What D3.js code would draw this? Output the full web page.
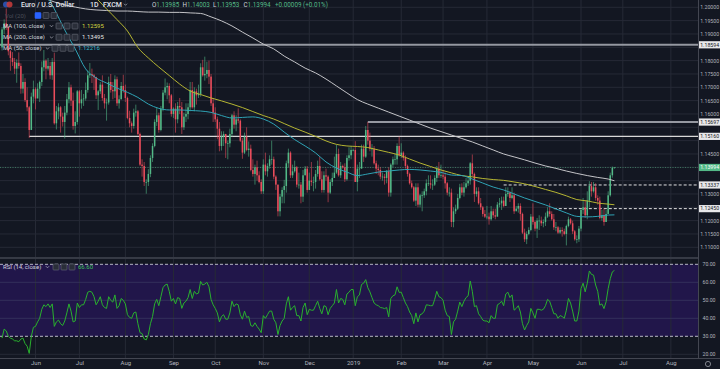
<!DOCTYPE html>
<html><head><meta charset="utf-8">
<script src="https://cdn.jsdelivr.net/npm/d3@7/dist/d3.min.js"></script>
<style>
html,body{margin:0;padding:0;background:#131722;overflow:hidden;}
svg{display:block;}
text{font-family:Roboto,"Noto Sans",sans-serif;}
</style></head><body>
<svg id="c" width="720" height="369"></svg>
<script>
// ---------------- DATA ----------------
const startDate = "2018-05-10";
const firstOpen = 1.1850;
const closes = [
1.1917,1.1940,
1.1925,1.1835,1.1810,1.1795,1.1770,
1.1792,1.1780,1.1695,1.1720,1.1652,
1.1625,1.1540,1.1665,1.1693,1.1658,
1.1695,1.1720,1.1775,1.1800,1.1770,
1.1780,1.1745,1.1795,1.1565,1.1610,
1.1625,1.1590,1.1570,1.1605,1.1655,
1.1700,1.1650,1.1555,1.1570,1.1685,
1.1640,1.1655,1.1658,1.1690,1.1745,
1.1750,1.1745,1.1738,1.1670,1.1685,
1.1710,1.1660,1.1640,1.1643,1.1720,
1.1690,1.1685,1.1730,1.1640,1.1655,
1.1705,1.1690,1.1660,1.1585,1.1565,
1.1555,1.1605,1.1610,1.1525,1.1410,
1.1405,1.1345,1.1345,1.1375,1.1435,
1.1480,1.1570,1.1595,1.1540,1.1620,
1.1680,1.1700,1.1705,1.1670,1.1600,
1.1620,1.1580,1.1630,1.1625,1.1550,
1.1590,1.1600,1.1625,1.1690,1.1625,
1.1685,1.1670,1.1675,1.1775,1.1745,
1.1750,1.1765,1.1740,1.1640,1.1605,
1.1580,1.1545,1.1480,1.1515,1.1525,
1.1490,1.1490,1.1525,1.1595,1.1560,
1.1580,1.1575,1.1500,1.1455,1.1515,
1.1465,1.1470,1.1390,1.1375,1.1400,
1.1370,1.1345,1.1310,1.1410,1.1385,
1.1405,1.1430,1.1430,1.1365,1.1335,
1.1235,1.1290,1.1315,1.1330,1.1415,
1.1455,1.1370,1.1385,1.1400,1.1335,
1.1335,1.1290,1.1370,1.1395,1.1315,
1.1350,1.1345,1.1345,1.1375,1.1405,
1.1355,1.1315,1.1370,1.1365,1.1305,
1.1345,1.1360,1.1380,1.1450,1.1370,
1.1405,1.1400,1.1355,1.1435,1.1445,
1.1465,1.1465,1.1345,1.1395,1.1395,
1.1470,1.1440,1.1540,1.1500,1.1470,
1.1470,1.1415,1.1395,1.1390,1.1365,
1.1365,1.1360,1.1385,1.1305,1.1410,
1.1430,1.1430,1.1480,1.1445,1.1455,
1.1435,1.1405,1.1375,1.1340,1.1325,
1.1275,1.1325,1.1260,1.1295,1.1295,
1.1310,1.1340,1.1340,1.1335,1.1335,
1.1360,1.1395,1.1370,1.1370,1.1365,
1.1340,1.1305,1.1305,1.1195,1.1235,
1.1245,1.1285,1.1325,1.1305,1.1325,
1.1340,1.1350,1.1415,1.1375,1.1300,
1.1310,1.1265,1.1250,1.1225,1.1215,
1.1215,1.1205,1.1235,1.1220,1.1215,
1.1260,1.1265,1.1275,1.1255,1.1300,
1.1305,1.1285,1.1295,1.1235,1.1245,
1.1255,1.1225,1.1155,1.1130,1.1150,
1.1165,1.1215,1.1195,1.1170,1.1200,
1.1200,1.1190,1.1195,1.1215,1.1235,
1.1225,1.1205,1.1175,1.1175,1.1155,
1.1165,1.1160,1.1150,1.1180,1.1205,
1.1190,1.1160,1.1130,1.1130,1.1170,
1.1240,1.1250,1.1220,1.1275,1.1330,
1.1310,1.1325,1.1285,1.1275,1.1210,
1.1220,1.1195,1.1225,1.1295,1.1370,
1.13985,1.13994];
const highs = [
1.1926,1.1955,
1.1996,1.1930,1.1840,1.1832,1.1810,
1.1805,1.1831,1.1790,1.1750,1.1734,
1.1700,1.1630,1.1680,1.1725,1.1700,
1.1715,1.1725,1.1797,1.1840,1.1805,
1.1810,1.1795,1.1810,1.1830,1.1630,
1.1640,1.1630,1.1605,1.1630,1.1675,
1.1720,1.1710,1.1680,1.1610,1.1690,
1.1690,1.1690,1.1675,1.1718,1.1763,
1.1791,1.1770,1.1750,1.1740,1.1690,
1.1720,1.1745,1.1675,1.1658,1.1740,
1.1750,1.1720,1.1745,1.1740,1.1670,
1.1720,1.1747,1.1710,1.1665,1.1612,
1.1572,1.1620,1.1635,1.1615,1.1530,
1.1430,1.1420,1.1355,1.1393,1.1445,
1.1490,1.1580,1.1623,1.1605,1.1630,
1.1690,1.1733,1.1718,1.1715,1.1675,
1.1625,1.1640,1.1645,1.1660,1.1645,
1.1605,1.1640,1.1640,1.1720,1.1720,
1.1700,1.1695,1.1710,1.1790,1.1803,
1.1815,1.1796,1.1800,1.1750,1.1660,
1.1625,1.1590,1.1570,1.1535,1.1535,
1.1525,1.1500,1.1545,1.1600,1.1610,
1.1595,1.1621,1.1580,1.1510,1.1530,
1.1550,1.1497,1.1485,1.1430,1.1410,
1.1425,1.1385,1.1355,1.1430,1.1455,
1.1415,1.1445,1.1500,1.1440,1.1370,
1.1335,1.1300,1.1325,1.1353,1.1425,
1.1470,1.1460,1.1410,1.1425,1.1405,
1.1380,1.1345,1.1390,1.1405,1.1405,
1.1380,1.1420,1.1365,1.1390,1.1425,
1.1440,1.1385,1.1385,1.1395,1.1370,
1.1355,1.1380,1.1440,1.1485,1.1470,
1.1420,1.1410,1.1415,1.1445,1.1475,
1.1480,1.1470,1.1498,1.1410,1.1420,
1.1485,1.1485,1.1555,1.1570,1.1530,
1.1487,1.1480,1.1425,1.1410,1.1400,
1.1380,1.1375,1.1390,1.1400,1.1415,
1.1440,1.1450,1.1490,1.1515,1.1490,
1.1460,1.1445,1.1410,1.1380,1.1350,
1.1330,1.1340,1.1340,1.1300,1.1310,
1.1320,1.1355,1.1370,1.1370,1.1355,
1.1370,1.1405,1.1420,1.1410,1.1390,
1.1380,1.1345,1.1325,1.1320,1.1250,
1.1260,1.1300,1.1338,1.1340,1.1345,
1.1360,1.1365,1.1420,1.1448,1.1380,
1.1325,1.1325,1.1285,1.1255,1.1240,
1.1255,1.1230,1.1255,1.1245,1.1245,
1.1270,1.1285,1.1290,1.1290,1.1325,
1.1325,1.1310,1.1325,1.1305,1.1255,
1.1265,1.1265,1.1230,1.1170,1.1160,
1.1175,1.1225,1.1265,1.1200,1.1210,
1.1220,1.1215,1.1205,1.1230,1.1250,
1.1265,1.1235,1.1225,1.1195,1.1180,
1.1175,1.1175,1.1170,1.1185,1.1215,
1.1210,1.1200,1.1165,1.1145,1.1180,
1.1245,1.1285,1.1275,1.1310,1.1348,
1.1345,1.1345,1.1340,1.1295,1.1290,
1.1240,1.1245,1.1240,1.1310,1.1380,
1.1403,1.14003];
const lows = [
1.1838,1.1900,
1.1915,1.1820,1.1762,1.1780,1.1750,
1.1717,1.1770,1.1676,1.1677,1.1645,
1.1610,1.1510,1.1540,1.1640,1.1617,
1.1665,1.1645,1.1705,1.1760,1.1730,
1.1763,1.1730,1.1728,1.1560,1.1542,
1.1580,1.1530,1.1553,1.1508,1.1595,
1.1640,1.1630,1.1541,1.1527,1.1560,
1.1590,1.1620,1.1630,1.1650,1.1680,
1.1735,1.1716,1.1690,1.1656,1.1615,
1.1675,1.1650,1.1620,1.1575,1.1635,
1.1680,1.1655,1.1660,1.1630,1.1620,
1.1655,1.1680,1.1645,1.1580,1.1550,
1.1530,1.1545,1.1590,1.1520,1.1405,
1.1365,1.1330,1.1301,1.1330,1.1363,
1.1420,1.1475,1.1555,1.1530,1.1535,
1.1610,1.1670,1.1655,1.1640,1.1590,
1.1585,1.1530,1.1565,1.1600,1.1525,
1.1540,1.1570,1.1580,1.1610,1.1620,
1.1610,1.1635,1.1660,1.1665,1.1740,
1.1725,1.1734,1.1712,1.1630,1.1570,
1.1570,1.1505,1.1460,1.1463,1.1480,
1.1435,1.1430,1.1475,1.1515,1.1545,
1.1535,1.1565,1.1495,1.1432,1.1450,
1.1460,1.1440,1.1385,1.1365,1.1335,
1.1350,1.1340,1.1300,1.1300,1.1370,
1.1365,1.1395,1.1410,1.1355,1.1315,
1.1216,1.1216,1.1265,1.1265,1.1305,
1.1400,1.1360,1.1360,1.1380,1.1325,
1.1320,1.1265,1.1270,1.1370,1.1305,
1.1330,1.1330,1.1310,1.1320,1.1365,
1.1350,1.1305,1.1305,1.1350,1.1269,
1.1300,1.1330,1.1360,1.1375,1.1365,
1.1360,1.1395,1.1345,1.1350,1.1425,
1.1430,1.1460,1.1345,1.1310,1.1360,
1.1395,1.1420,1.1435,1.1485,1.1460,
1.1440,1.1410,1.1375,1.1370,1.1355,
1.1350,1.1335,1.1340,1.1290,1.1290,
1.1400,1.1410,1.1410,1.1440,1.1435,
1.1425,1.1395,1.1365,1.1335,1.1320,
1.1270,1.1255,1.1250,1.1250,1.1235,
1.1285,1.1295,1.1330,1.1320,1.1315,
1.1330,1.1345,1.1360,1.1360,1.1355,
1.1320,1.1295,1.1290,1.1176,1.1175,
1.1225,1.1240,1.1280,1.1295,1.1290,
1.1320,1.1330,1.1335,1.1365,1.1270,
1.1290,1.1260,1.1240,1.1215,1.1210,
1.1205,1.1185,1.1200,1.1210,1.1205,
1.1215,1.1250,1.1240,1.1250,1.1255,
1.1290,1.1270,1.1280,1.1225,1.1240,
1.1230,1.1200,1.1150,1.1120,1.1112,
1.1145,1.1160,1.1185,1.1160,1.1135,
1.1165,1.1180,1.1175,1.1180,1.1210,
1.1215,1.1200,1.1165,1.1160,1.1150,
1.1150,1.1140,1.1145,1.1107,1.1175,
1.1185,1.1150,1.1125,1.1115,1.1120,
1.1160,1.1225,1.1210,1.1205,1.1250,
1.1290,1.1305,1.1275,1.1260,1.1205,
1.1200,1.1181,1.1195,1.1225,1.1290,
1.1361,1.13953];
const rsiValues = [
29,34,33,30,29,28.5,27.5,27.5,27,28.5,29,26,24.5,20.5,30,35,35.5,
38,40,45,47.5,46.5,48,46,48,35.5,38,39,37,36,38.5,43,48,44,38,38.5,48.5,
46,47.5,47.5,50.5,54.5,55,54.5,52,47.5,49.5,52,47.5,46,45.5,52,50,49,53,45.5,47,
51,50,48,42,40.5,40,43,43.5,37,32,31.5,28.5,28,31,37,41,48,50.5,47,52,
57,58.5,59,55,49.5,51,48,51.5,51,45.5,48.5,49.5,51.5,56,51,55,53.5,54,60.5,58.5,
59,60,57.5,50.5,47.5,45.5,43,38,41,42,39.5,39.5,43,49.5,46.5,48,47.5,42,39.5,44,
40.5,41,36,35.5,37.5,35.5,34,32,41.5,40,42,44,44,39.5,37.5,31,36,38.5,40,48,
52,44.5,46,47,41.5,41.5,38.5,46,48.5,42,45,44.5,44.5,47,49.5,45.5,42.5,47,46.5,42,
45.5,47,48.5,56,48.5,51,50.5,47.5,53.5,54.5,56,56,47,52,53,
58.8,59.5,61.5,57,54.7,51.5,48.5,47.5,47,46,45.8,45.4,46,40.8,51,52.5,53,57.5,54.4,54.5,51.5,
48.5,46.5,43.5,41.5,37,43,38,42,42.5,44,47.5,47.3,47,47,50.5,55,52,51.5,50,44.5,
41.5,41,31,38,39.5,44,49,46.5,49.5,51.5,52.5,60.7,55,46.5,47,42.5,41,39,38.5,38.5,
37.5,41.5,40,40,47.5,48.2,49.5,47,53.5,54.5,51.5,53,44.5,45.5,47,43.5,37,33.5,36,38,
45.5,43,40,45,45,44.5,45,47,50.5,49.5,46,42.5,42.5,40,41.5,41,40,44.5,51,48.5,
44,38.5,38.5,44,56.5,59.5,54.7,59.5,66.3,64.4,64,58.5,55,47.3,48,45.4,49.2,56.5,62,65.8,66.6];
const maIndex = [0,5,10,15,20,25,30,35,40,45,50,55,60,65,70,75,80,85,90,95,100,105,110,115,120,125,130,135,140,145,150,155,160,165,170,175,180,185,190,195,200,205,210,215,220,225,230,235,240,245,250,255,260,265,270,275,280,285,290,293];
const ma50 = [null,null,null,null,
1.2065,1.1994,1.1915,1.1844,1.1769,1.1735,1.1716,1.1697,1.1681,1.1662,1.1637,1.1621,1.1615,1.1615,1.1613,1.1611,1.1606,1.1594,1.1585,1.1587,1.1589,1.1581,1.1562,1.1532,1.1504,1.1480,1.1454,1.1420,1.1397,1.1382,1.1369,1.1375,1.1382,1.1386,1.1390,1.1392,1.1390,1.1386,1.1381,1.1371,1.1369,1.1356,1.1341,1.1326,1.1315,1.1300,1.1285,1.1272,1.1259,1.1244,1.1229,1.1216,1.1214,1.1216,1.1221,
1.12216];
const ma100 = [null,null,null,null,null,null,null,null,
1.2076,1.2035,1.1994,1.1954,1.1911,1.1849,1.1810,1.1776,1.1744,1.1712,1.1686,1.1673,1.1660,1.1649,1.1637,1.1624,1.1609,1.1594,1.1581,1.1564,1.1547,1.1532,1.1516,1.1499,1.1486,1.1480,1.1478,1.1474,1.1465,1.1456,1.1446,1.1431,1.1416,1.1403,1.1390,1.1379,1.1369,1.1364,1.1358,1.1354,1.1351,1.1345,1.1338,1.1328,1.1317,1.1306,1.1293,1.1279,1.1274,1.1266,1.1262,
1.12595];
const ma200 = [null,null,null,
1.2050,1.2035,1.2020,1.2009,1.2001,1.1994,1.1990,1.1988,1.1986,1.1986,1.1984,1.1982,1.1982,1.1981,1.1981,1.1979,1.1977,1.1964,1.1949,1.1930,1.1907,1.1885,1.1862,1.1844,1.1817,1.1795,1.1772,1.1754,1.1731,1.1705,1.1679,1.1654,1.1637,1.1622,1.1607,1.1592,1.1577,1.1562,1.1547,1.1534,1.1521,1.1508,1.1495,1.1480,1.1465,1.1450,1.1439,1.1428,1.1416,1.1405,1.1396,1.1386,1.1377,1.1369,1.1362,1.1356,
1.13495];
const monthLabels = ["Jun","Jul","Aug","Sep","Oct","Nov","Dec","2019","Feb","Mar","Apr","May","Jun","Jul","Aug"];
const priceTicks = [1.20,1.195,1.19,1.185,1.18,1.175,1.17,1.165,1.16,1.155,1.15,1.145,1.14,1.135,1.13,1.125,1.12,1.115,1.11];
const rsiTicks = [70,60,50,40,30,20];
const levelPrices = [1.18594,1.15697,1.15160,1.13337,1.12450];
const levelFrom = ["2018-05-10","2019-01-10","2018-05-29","2019-04-11","2019-05-15"];
const lastPrice = 1.13994;
const legendOHLC = ["1.13985","1.14003","1.13953","1.13994"];
const legendChange = "+0.00009 (+0.01%)";
const maLegend = [["MA (100, close)","1.12595"],["MA (200, close)","1.13495"],["MA (50, close)","1.12216"]];
const rsiLegend = ["RSI (14, close)","66.60"];

// ---------------- LAYOUT ----------------
const W=720,H=369, axisX=698;
const mainTop=0, mainBot=257, rsiTop=259, rsiBot=358;
const UP="#53b987", DN="#eb4d5c", BG="#131722", GRID="#262a36", TXT="#b2b5be";
const svg=d3.select("#c");
svg.append("rect").attr("width",W).attr("height",H).attr("fill",BG);

const dates=[];
{let t=Date.parse(startDate+"T00:00:00Z"); const end=Date.parse("2019-08-31T00:00:00Z");
 while(t<=end){const wd=new Date(t).getUTCDay(); if(wd!==0&&wd!==6) dates.push(new Date(t)); t+=86400000;}}
const idxOf=s=>{const t=Date.parse(s+"T00:00:00Z");return dates.findIndex(d=>d.getTime()>=t);};
const x=d3.scaleLinear().domain([idxOf("2018-06-01"),idxOf("2019-06-03")]).range([35.5,581]);
const y=d3.scaleLinear().domain([1.11,1.20]).range([247.3,7.3]);
const yr=d3.scaleLinear().domain([30,70]).range([336.3,264.3]);

const monthTicks=[];
for(let i=1;i<dates.length;i++) if(dates[i].getUTCMonth()!==dates[i-1].getUTCMonth()) monthTicks.push(i);

const defs=svg.append("defs");
defs.append("clipPath").attr("id","cm").append("rect").attr("x",0).attr("y",mainTop).attr("width",axisX).attr("height",mainBot-mainTop);
defs.append("clipPath").attr("id","cr").append("rect").attr("x",0).attr("y",rsiTop).attr("width",axisX).attr("height",rsiBot-rsiTop);

svg.append("rect").attr("x",0).attr("width",axisX).attr("y",yr(70)).attr("height",yr(30)-yr(70)).attr("fill","#21164a");

const grid=svg.append("g");
grid.selectAll(".vg").data(monthTicks).join("line").attr("x1",d=>x(d)).attr("x2",d=>x(d)).attr("y1",0).attr("y2",rsiBot).attr("stroke",GRID).attr("stroke-width",1);
grid.selectAll(".hg").data(priceTicks).join("line").attr("x1",0).attr("x2",axisX).attr("y1",d=>y(d)).attr("y2",d=>y(d)).attr("stroke",GRID);
grid.selectAll(".rg").data([60,50,40,20]).join("line").attr("x1",0).attr("x2",axisX).attr("y1",d=>yr(d)).attr("y2",d=>yr(d)).attr("stroke",d=>d===20?GRID:"#34305a");

svg.append("rect").attr("x",0).attr("width",axisX).attr("y",mainBot).attr("height",rsiTop-mainBot).attr("fill","#363a45");
svg.append("line").attr("x1",axisX+0.5).attr("x2",axisX+0.5).attr("y1",0).attr("y2",rsiBot).attr("stroke","#434651");
svg.append("line").attr("x1",0).attr("x2",W).attr("y1",rsiBot+0.5).attr("y2",rsiBot+0.5).attr("stroke","#434651");

const main=svg.append("g").attr("clip-path","url(#cm)");
const levelStyle=[{c:"#9598a1",w:2,dash:null},{c:"#9598a1",w:2,dash:null},{c:"#d8d8d8",w:1.2,dash:null},{c:"#e0e0e0",w:1,dash:"3,2"},{c:"#e0e0e0",w:1,dash:"3,2"}];
levelPrices.forEach((p,k)=>{
  const xs=k===0?0:x(idxOf(levelFrom[k]));
  main.append("line").attr("x1",xs).attr("x2",axisX).attr("y1",y(p)).attr("y2",y(p))
    .attr("stroke",levelStyle[k].c).attr("stroke-width",levelStyle[k].w).attr("stroke-dasharray",levelStyle[k].dash);
});
main.append("line").attr("x1",0).attr("x2",axisX).attr("y1",y(lastPrice)).attr("y2",y(lastPrice))
  .attr("stroke",UP).attr("stroke-opacity",0.55).attr("stroke-dasharray","1,1.5");

const bars=closes.map((c,i)=>({i,o:i===0?firstOpen:closes[i-1],h:highs[i],l:lows[i],c}));
const cg=main.append("g");
cg.selectAll(".w").data(bars).join("line")
  .attr("x1",d=>x(d.i)).attr("x2",d=>x(d.i)).attr("y1",d=>y(d.h)).attr("y2",d=>y(d.l))
  .attr("stroke",d=>d.c>=d.o?UP:DN).attr("stroke-width",0.7).attr("stroke-opacity",0.85);
cg.selectAll(".b").data(bars).join("rect")
  .attr("x",d=>x(d.i)-0.75).attr("width",1.5)
  .attr("y",d=>y(Math.max(d.o,d.c))).attr("height",d=>Math.max(0.7,Math.abs(y(d.o)-y(d.c))))
  .attr("fill",d=>d.c>=d.o?UP:DN);

const maLine=d3.line().defined(d=>d[1]!=null).x(d=>x(d[0])).y(d=>y(d[1])).curve(d3.curveMonotoneX);
[[ma200,"#c4c4c8"],[ma100,"#b5b532"],[ma50,"#2fa3b5"]].forEach(([arr,col])=>{
  main.append("path").datum(maIndex.map((ix,k)=>[ix,arr[k]])).attr("d",maLine)
    .attr("fill","none").attr("stroke",col).attr("stroke-width",1);
});

const rp=svg.append("g").attr("clip-path","url(#cr)");
[70,30].forEach(v=>rp.append("line").attr("x1",0).attr("x2",axisX).attr("y1",yr(v)).attr("y2",yr(v))
  .attr("stroke","#c9c9d6").attr("stroke-dasharray","3,2").attr("stroke-width",0.9));
rp.append("path").datum(rsiValues.map((v,i)=>[i,v]))
  .attr("d",d3.line().x(d=>x(d[0])).y(d=>yr(d[1])))
  .attr("fill","none").attr("stroke","#29b12e").attr("stroke-width",1);

// right axes (labels hidden under label boxes are dropped)
const fs=5.2;
const boxes=levelPrices.map(p=>({p,bg:"#e8e8ea",fg:"#131722"})).concat([{p:lastPrice,bg:UP,fg:"#ffffff"}]);
const visTicks=priceTicks.filter(t=>boxes.every(b=>Math.abs(y(t)-y(b.p))>7));
const ya=svg.append("g").attr("transform",`translate(${axisX},0)`)
  .call(d3.axisRight(y).tickValues(visTicks).tickFormat(d3.format(".5f")).tickSize(0).tickPadding(2.2));
const yra=svg.append("g").attr("transform",`translate(${axisX},0)`)
  .call(d3.axisRight(yr).tickValues(rsiTicks).tickFormat(d3.format(".2f")).tickSize(0).tickPadding(4.5));
[ya,yra].forEach(a=>{a.select(".domain").remove();a.selectAll("text").attr("fill",TXT).style("font-size",fs+"px");});

const bx=svg.append("g");
boxes.forEach(b=>{
  bx.append("rect").attr("x",axisX+1).attr("y",y(b.p)-3.6).attr("width",W-axisX-1).attr("height",7.2).attr("fill",b.bg);
  bx.append("text").attr("x",axisX+2.2).attr("y",y(b.p)).attr("dy","0.34em").attr("fill",b.fg)
    .style("font-size",fs+"px").text(d3.format(".5f")(b.p));
});

const xa=svg.append("g").attr("transform",`translate(0,${rsiBot})`)
  .call(d3.axisBottom(x).tickValues(monthTicks).tickFormat((d,k)=>monthLabels[k]).tickSize(0).tickPadding(3));
xa.select(".domain").remove();
xa.selectAll("text").attr("fill",TXT).style("font-size","6px");
svg.append("circle").attr("cx",708).attr("cy",364).attr("r",2.6).attr("fill","none").attr("stroke","#8a8d96").attr("stroke-width",0.9);

// ---------------- LEGEND ----------------
const lg=svg.append("g").style("font-size","6px");
lg.append("circle").attr("cx",6).attr("cy",4.5).attr("r",3).attr("fill","#2a4fa8");
lg.append("circle").attr("cx",9.5).attr("cy",4.5).attr("r",3).attr("fill","#c23b3b").attr("opacity",0.9);
const t1=lg.append("text").attr("x",21).attr("y",7).attr("fill","#e0e3eb").style("font-size","7px").style("font-weight","500");
t1.append("tspan").text("Euro / U.S. Dollar");
t1.append("tspan").attr("x",90).text("1D");
t1.append("tspan").attr("x",103).text("FXCM");
function chev(g,cx,cy){g.append("path").attr("d",`M${cx-1.6},${cy-0.8}L${cx},${cy+0.8}L${cx+1.6},${cy-0.8}`).attr("fill","none").attr("stroke","#b2b5be").attr("stroke-width",0.7);}
chev(lg,125.5,4.5);
const t2=lg.append("text").attr("y",7).style("font-size","6.3px");
["O","H","L","C"].forEach((k,j)=>{
  t2.append("tspan").attr("x",152+j*30.5).attr("fill","#d1d4dc").text(k);
  t2.append("tspan").attr("fill",UP).text(legendOHLC[j]);
});
t2.append("tspan").attr("x",275).attr("fill",UP).text(legendChange);

function icons(g,x0,cy,first){
  for(let k=0;k<3;k++){
    g.append("rect").attr("x",x0+k*8).attr("y",cy-3).attr("width",6).attr("height",6).attr("rx",0.8)
      .attr("fill",k===0&&first?"#2962ff":"#2a2e39").attr("stroke",k===0&&first?"#2962ff":"#6a6d78").attr("stroke-width",0.6);
  }
}
lg.append("text").attr("x",5).attr("y",17.5).attr("fill","#4c4f59").text("Vol (20)");
icons(lg,35,15.5,true);
const maCols=["#d6d640","#e6e6e6","#37b8cc"];
const rowY=[26,37.3,48.3];
const valX=[82,82,78];
maLegend.forEach((m,k)=>{
  lg.append("text").attr("x",3).attr("y",rowY[k]+2).attr("fill","#d1d4dc").text(m[0]);
  const iconX=k===2?52:56;
  chev(lg,iconX-4.5,rowY[k]);
  icons(lg,iconX,rowY[k],false);
  lg.append("text").attr("x",valX[k]).attr("y",rowY[k]+2).attr("fill",maCols[k]).text(m[1]);
});
lg.append("text").attr("x",3).attr("y",269).attr("fill","#d1d4dc").text(rsiLegend[0]);
chev(lg,47.5,267);
icons(lg,53,267,false);
lg.append("text").attr("x",78).attr("y",269).attr("fill","#3cc35a").text(rsiLegend[1]);
</script>
</body></html>
